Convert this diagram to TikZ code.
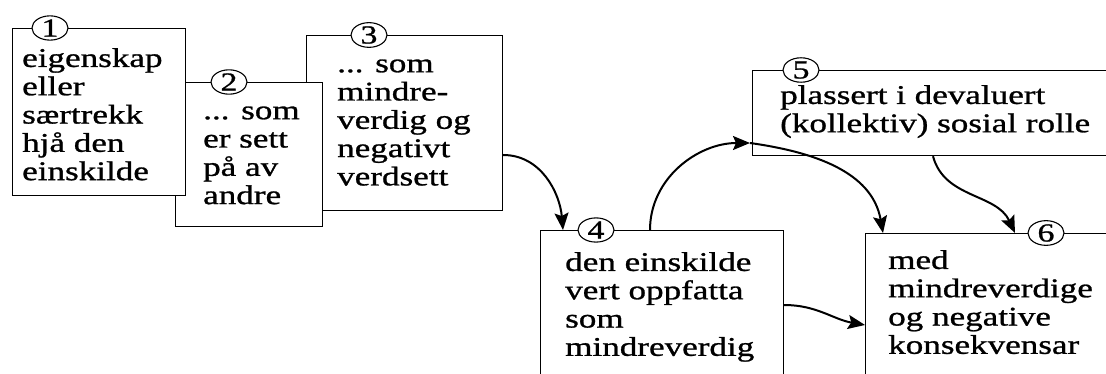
\documentclass[tikz,border=0pt]{standalone}
\usepackage{fontspec}
\newfontfamily\boxfont[FakeStretch=1.3,FakeBold=1]{Liberation Serif}
\usetikzlibrary{shapes.geometric,arrows.meta,calc}
\newcommand\firststrut{\rule{0pt}{18pt}}
\begin{document}
\begin{tikzpicture}[%
      x=1pt, y=1pt,
      box/.style={rectangle, draw, fill=white, anchor=north west, inner sep=0pt, line width=1.2pt},
      words/.style={anchor=north west, inner sep=0pt, align=left, font=\boxfont\fontsize{27}{28.3}\selectfont},
      numb/.style={ellipse, draw, fill=white, inner sep=0pt, minimum width=36pt, minimum height=22pt, line width=1.1pt, font=\boxfont\fontsize{26}{26}\selectfont},
      link/.style={draw, line width=2pt, -{Stealth[length=17pt, width=14pt, inset=3pt]}}
      ]
    \useasboundingbox (0, 0) rectangle (1106, -374);
    \clip (0, 0) rectangle (1106, -374);

    \node [box, minimum width=196pt, minimum height=175pt] (verdsett) at (306, -35) {};
    \node [box, minimum width=147pt, minimum height=144pt] (andre) at (175, -82) {};
    \node [box, minimum width=173pt, minimum height=167pt] (trekk) at (12, -28) {};
    \node [box, minimum width=243pt, minimum height=200pt] (oppfatta) at (540, -230) {};
    \node [box, minimum width=400pt, minimum height=85pt] (rolle) at (752, -70) {};
    \node [box, minimum width=300pt, minimum height=200pt] (konsekv) at (865, -233) {};

    \node [words] (ttrekk) at (22, -48) {\firststrut eigenskap\\eller\\særtrekk\\hjå den\\einskilde};
    \node [words] (tandre) at (203, -101) {\firststrut ... som\\er sett\\på av\\andre};
    \node [words] (tverdsett) at (337, -54) {\firststrut ... som\\mindre-\\verdig og\\negativt\\verdsett};
    \node [words] (toppfatta) at (565, -252) {\firststrut den einskilde\\vert oppfatta\\som\\mindreverdig};
    \node [words] (trolle) at (780, -85) {\firststrut plassert i devaluert\\(kollektiv) sosial rolle};
    \node [words] (tkonsekv) at (888, -250) {\firststrut med\\mindreverdige\\og negative\\konsekvensar};

    \node [numb] (n1) at (50, -28) {1};
    \node [numb] (n2) at (229, -82) {2};
    \node [numb] (n3) at (369, -35) {3};
    \node [numb] (n4) at (596, -230) {4};
    \node [numb] (n5) at (801, -70) {5};
    \node [numb] (n6) at (1046, -233) {6};

    \coordinate (joint) at ($(rolle.north west)+(-2,-73)$);

    \path [link] ($(verdsett.north east)+(0,-120)$) to[out=0, in=95] ($(oppfatta.north west)+(23,0)$);
    \path [link] ($(oppfatta.north west)+(110,0)$) to[out=90, in=180] (joint);
    \path [link] (joint) to[out=-8, in=100] ($(konsekv.north west)+(18,0)$);
    \path [link] ($(rolle.south west)+(181,0)$) to[out=-75, in=115] ($(konsekv.north west)+(150,0)$);
    \path [link] ($(oppfatta.north east)+(0,-75)$) to[out=0, in=170] ($(konsekv.north west)+(0,-92)$);
  \end{tikzpicture}
\end{document}
